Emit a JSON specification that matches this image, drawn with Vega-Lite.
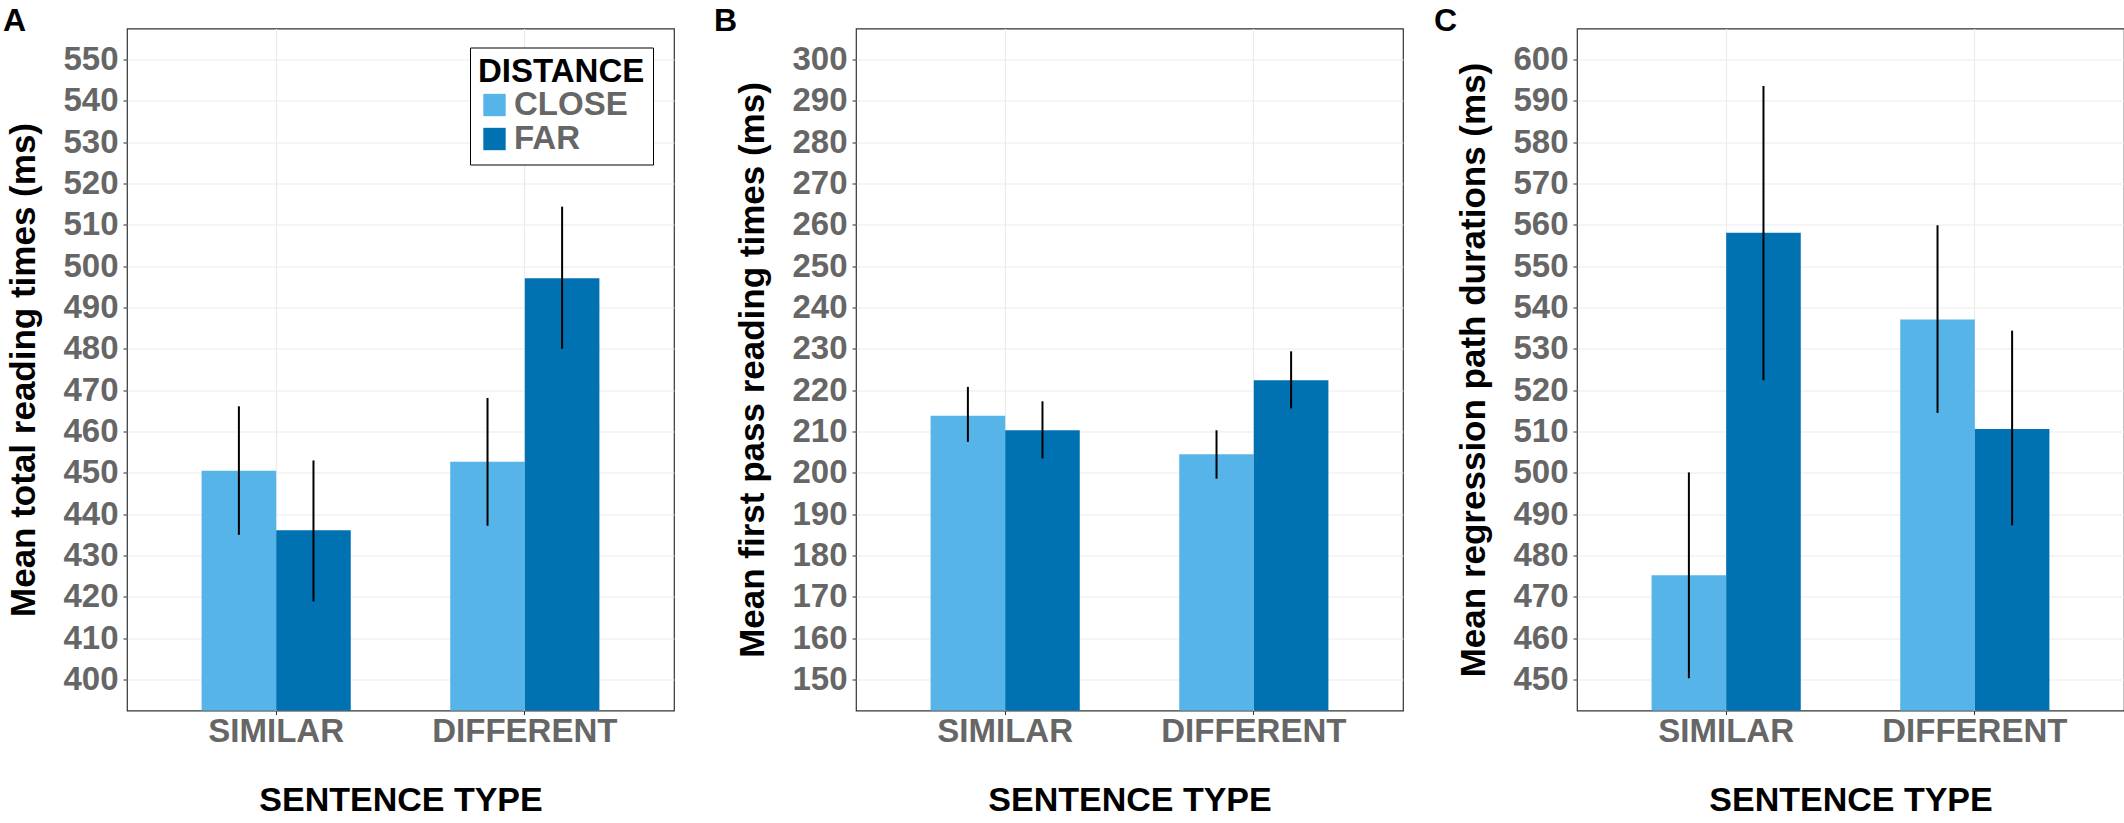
{
  "$schema": "https://vega.github.io/schema/vega-lite/v6.json",
  "description": "Mean reading times by sentence type and distance, three panels",
  "padding": {"left": 2, "top": 3.5, "right": 0, "bottom": 0},
  "background": "white",
  "datasets": {
    "means": [
      {"measure": "total", "type": "SIMILAR", "distance": "CLOSE", "mean": 450.5, "lo": 435.0, "hi": 466.1},
      {"measure": "total", "type": "SIMILAR", "distance": "FAR", "mean": 436.1, "lo": 418.9, "hi": 453.0},
      {"measure": "total", "type": "DIFFERENT", "distance": "CLOSE", "mean": 452.7, "lo": 437.2, "hi": 468.1},
      {"measure": "total", "type": "DIFFERENT", "distance": "FAR", "mean": 497.1, "lo": 480.0, "hi": 514.4},
      {"measure": "first", "type": "SIMILAR", "distance": "CLOSE", "mean": 213.8, "lo": 207.5, "hi": 220.8},
      {"measure": "first", "type": "SIMILAR", "distance": "FAR", "mean": 210.3, "lo": 203.5, "hi": 217.3},
      {"measure": "first", "type": "DIFFERENT", "distance": "CLOSE", "mean": 204.5, "lo": 198.6, "hi": 210.3},
      {"measure": "first", "type": "DIFFERENT", "distance": "FAR", "mean": 222.4, "lo": 215.6, "hi": 229.4},
      {"measure": "regression", "type": "SIMILAR", "distance": "CLOSE", "mean": 475.2, "lo": 450.3, "hi": 500.1},
      {"measure": "regression", "type": "SIMILAR", "distance": "FAR", "mean": 558.1, "lo": 522.4, "hi": 593.6},
      {"measure": "regression", "type": "DIFFERENT", "distance": "CLOSE", "mean": 537.1, "lo": 514.5, "hi": 559.9},
      {"measure": "regression", "type": "DIFFERENT", "distance": "FAR", "mean": 510.6, "lo": 487.3, "hi": 534.4}
    ]
  },
  "resolve": {"scale": {"color": "independent"}},
  "spacing": 29,
  "hconcat": [
    {
      "resolve": {"scale": {"color": "independent"}},
      "spacing": 38,
      "hconcat": [
        {
          "width": 547,
          "height": 682,
          "title": {"text": "A", "dx": -124},
          "data": {"name": "means"},
          "transform": [{"filter": "datum.measure === 'total'"}],
          "encoding": {
            "x": {
              "field": "type", "type": "nominal", "sort": ["SIMILAR", "DIFFERENT"],
              "scale": {"paddingInner": 0.4, "paddingOuter": 0.3},
              "axis": {"title": "SENTENCE TYPE"}
            },
            "xOffset": {"field": "distance", "type": "nominal", "sort": ["CLOSE", "FAR"], "scale": {"paddingInner": 0, "paddingOuter": 0}}
          },
          "layer": [
            {
              "mark": {"type": "bar", "clip": true},
              "encoding": {
                "y": {
                  "field": "mean", "type": "quantitative",
                  "scale": {"domain": [392.5, 557.5], "nice": false, "zero": false},
                  "axis": {
                    "title": "Mean total reading times (ms)",
                    "values": [400, 410, 420, 430, 440, 450, 460, 470, 480, 490, 500, 510, 520, 530, 540, 550]
                  }
                },
                "color": {
                  "field": "distance", "type": "nominal",
                  "scale": {"domain": ["CLOSE", "FAR"], "range": ["#56B4E9", "#0072B2"]},
                  "legend": {"orient": "none", "legendX": 343, "legendY": 19, "title": "DISTANCE"}
                }
              }
            },
            {
              "mark": {"type": "rule", "color": "black", "strokeWidth": 2},
              "encoding": {
                "y": {
                  "field": "lo", "type": "quantitative",
                  "axis": {
                    "orient": "right", "title": null, "labels": false, "ticks": false, "domain": false,
                    "gridWidth": 0.7,
                    "values": [395, 405, 415, 425, 435, 445, 455, 465, 475, 485, 495, 505, 515, 525, 535, 545, 555]
                  }
                },
                "y2": {"field": "hi"}
              }
            }
          ],
          "resolve": {"axis": {"y": "independent"}}
        },
        {
          "width": 547,
          "height": 682,
          "title": {"text": "B", "dx": -142},
          "data": {"name": "means"},
          "transform": [{"filter": "datum.measure === 'first'"}],
          "encoding": {
            "x": {
              "field": "type", "type": "nominal", "sort": ["SIMILAR", "DIFFERENT"],
              "scale": {"paddingInner": 0.4, "paddingOuter": 0.3},
              "axis": {"title": "SENTENCE TYPE"}
            },
            "xOffset": {"field": "distance", "type": "nominal", "sort": ["CLOSE", "FAR"], "scale": {"paddingInner": 0, "paddingOuter": 0}}
          },
          "layer": [
            {
              "mark": {"type": "bar", "clip": true},
              "encoding": {
                "y": {
                  "field": "mean", "type": "quantitative",
                  "scale": {"domain": [142.5, 307.5], "nice": false, "zero": false},
                  "axis": {
                    "title": "Mean first pass reading times (ms)",
                    "values": [150, 160, 170, 180, 190, 200, 210, 220, 230, 240, 250, 260, 270, 280, 290, 300]
                  }
                },
                "color": {
                  "field": "distance", "type": "nominal",
                  "scale": {"domain": ["CLOSE", "FAR"], "range": ["#56B4E9", "#0072B2"]},
                  "legend": null
                }
              }
            },
            {
              "mark": {"type": "rule", "color": "black", "strokeWidth": 2},
              "encoding": {
                "y": {
                  "field": "lo", "type": "quantitative",
                  "axis": {
                    "orient": "right", "title": null, "labels": false, "ticks": false, "domain": false,
                    "gridWidth": 0.7,
                    "values": [145, 155, 165, 175, 185, 195, 205, 215, 225, 235, 245, 255, 265, 275, 285, 295, 305]
                  }
                },
                "y2": {"field": "hi"}
              }
            }
          ],
          "resolve": {"axis": {"y": "independent"}}
        }
      ]
    },
    {
      "width": 547,
      "height": 682,
      "title": {"text": "C", "dx": -143},
      "data": {"name": "means"},
      "transform": [{"filter": "datum.measure === 'regression'"}],
      "encoding": {
        "x": {
          "field": "type", "type": "nominal", "sort": ["SIMILAR", "DIFFERENT"],
          "scale": {"paddingInner": 0.4, "paddingOuter": 0.3},
          "axis": {"title": "SENTENCE TYPE"}
        },
        "xOffset": {"field": "distance", "type": "nominal", "sort": ["CLOSE", "FAR"], "scale": {"paddingInner": 0, "paddingOuter": 0}}
      },
      "layer": [
        {
          "mark": {"type": "bar", "clip": true},
          "encoding": {
            "y": {
              "field": "mean", "type": "quantitative",
              "scale": {"domain": [442.5, 607.5], "nice": false, "zero": false},
              "axis": {
                "title": "Mean regression path durations (ms)",
                "values": [450, 460, 470, 480, 490, 500, 510, 520, 530, 540, 550, 560, 570, 580, 590, 600]
              }
            },
            "color": {
              "field": "distance", "type": "nominal",
              "scale": {"domain": ["CLOSE", "FAR"], "range": ["#56B4E9", "#0072B2"]},
              "legend": null
            }
          }
        },
        {
          "mark": {"type": "rule", "color": "black", "strokeWidth": 2},
          "encoding": {
            "y": {
              "field": "lo", "type": "quantitative",
              "axis": {
                "orient": "right", "title": null, "labels": false, "ticks": false, "domain": false,
                "gridWidth": 0.7,
                "values": [445, 455, 465, 475, 485, 495, 505, 515, 525, 535, 545, 555, 565, 575, 585, 595, 605]
              }
            },
            "y2": {"field": "hi"}
          }
        }
      ],
      "resolve": {"axis": {"y": "independent"}}
    }
  ],
  "config": {
    "font": "Liberation Sans",
    "view": {"stroke": "#333333", "strokeWidth": 1.2},
    "title": {
      "anchor": "start", "frame": "group", "fontSize": 32, "fontWeight": "bold",
      "color": "black", "baseline": "alphabetic", "offset": -9.4
    },
    "axis": {
      "domain": false,
      "tickColor": "#333333",
      "tickSize": 4,
      "labelColor": "#666666",
      "labelFontSize": 33,
      "labelFontWeight": "bold",
      "labelLimit": 400,
      "titleColor": "black",
      "titleFontSize": 34,
      "titleFontWeight": "bold",
      "gridColor": "#EBEBEB"
    },
    "axisX": {
      "labelAngle": 0,
      "labelPadding": 1,
      "titlePadding": 35,
      "grid": true,
      "gridWidth": 1.2,
      "bandPosition": 0.5
    },
    "axisY": {
      "labelPadding": 5,
      "titlePadding": 21,
      "titleFontSize": 35,
      "gridWidth": 1.2
    },
    "legend": {
      "symbolType": "square",
      "symbolSize": 500,
      "symbolStrokeWidth": 0,
      "titleFontSize": 33,
      "titleColor": "black",
      "titleFontWeight": "bold",
      "titlePadding": 0,
      "labelFontSize": 33,
      "labelFontWeight": "bold",
      "labelColor": "#666666",
      "labelOffset": 3,
      "rowPadding": 0,
      "padding": 8,
      "strokeColor": "black",
      "fillColor": "white"
    }
  }
}
